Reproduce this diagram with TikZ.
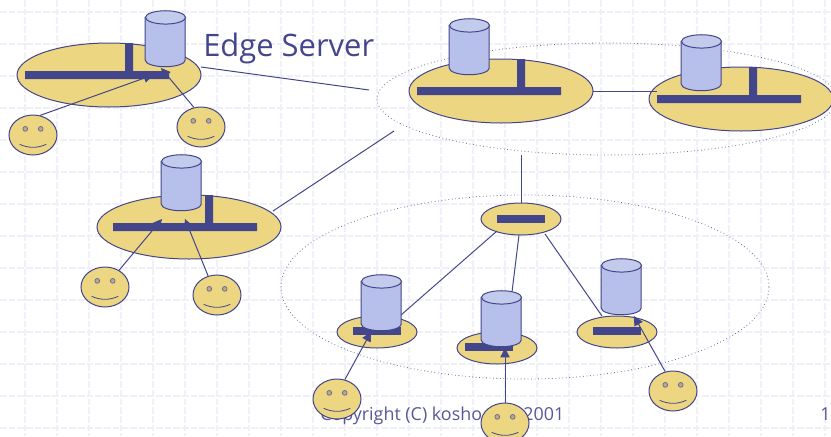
\documentclass[tikz,border=0pt]{standalone}
\usepackage{fontspec}
\setmainfont{Open Sans}
\usetikzlibrary{shapes.geometric,arrows.meta}
\definecolor{ink}{HTML}{44468C}
\definecolor{sand}{HTML}{ECD681}
\definecolor{dbbody}{HTML}{B7C0EA}
\definecolor{dbtop}{HTML}{C3CBEC}
\definecolor{gridc}{HTML}{EFF0FA}
\tikzset{
  px/.style={x=0.75pt,y=-0.75pt},
  gridline/.style={draw=gridc,line width=0.9pt,dash pattern=on 5pt off 1.5pt},
  network/.style={ellipse,draw=ink,fill=sand,line width=0.75pt,minimum width=138pt,minimum height=48pt,inner sep=0pt},
  smallnet/.style={network,minimum width=60pt,minimum height=24pt},
  region/.style={ellipse,draw=ink!80,line width=0.6pt,dotted,minimum height=84pt,inner sep=0pt},
  bar/.style={fill=ink,draw=none},
  serverbody/.style={draw=ink,line width=0.75pt,fill=dbbody},
  servertop/.style={draw=ink,line width=0.75pt,fill=dbtop},
  serverbox/.style={rectangle,minimum width=30pt,minimum height=42pt,inner sep=0pt},
  face/.style={ellipse,draw=ink,fill=sand,line width=0.75pt,minimum width=36pt,minimum height=30pt,inner sep=0pt},
  eye/.style={circle,draw=ink!85,fill=sand!70!ink,line width=0.5pt,minimum size=3.6pt,inner sep=0pt},
  link/.style={draw=ink,line width=0.75pt},
  request/.style={link,-{Triangle[length=7pt,width=7pt]}},
  titletext/.style={text=ink,font=\fontsize{23.2}{28}\selectfont,inner sep=0pt},
  foottext/.style={text=ink!90,font=\fontsize{13.4}{17}\selectfont,inner sep=0pt}
}
\newcommand{\smiley}[3]{%
  \node[face] (#1) at (#2,#3) {};
  \node[eye] (#1l) at ([xshift=-5.8pt,yshift=4.6pt]#1.center) {};
  \node[eye] (#1r) at ([xshift=5.8pt,yshift=4.6pt]#1.center) {};
  \draw[ink,line width=0.6pt] ([xshift=-10pt,yshift=-7pt]#1.center) .. controls ([xshift=-3pt,yshift=-10pt]#1.center) and ([xshift=3pt,yshift=-10pt]#1.center) .. ([xshift=10pt,yshift=-7pt]#1.center);
}
\newcommand{\dbserver}[3]{%
  \node[serverbox] (#1) at (#2,#3) {};
  \draw[serverbody] (#1.north west) ++(0,-5pt) -- ++(0,-32pt) arc[start angle=180,end angle=360,x radius=15pt,y radius=5pt] -- ++(0,32pt) -- cycle;
  \draw[servertop] ([yshift=-5pt]#1.north) ellipse[x radius=15pt,y radius=5pt];
}
\begin{document}
\begin{tikzpicture}[px]
\useasboundingbox (0,0) rectangle (831,436);
\begin{scope}
\clip (0,0) rectangle (831,436);
% grid
\foreach \gx in {25,57,...,825} \draw[gridline] (\gx,0) -- (\gx,436);
\foreach \gy in {12,44,...,428} \draw[gridline] (0,\gy) -- (831,\gy);
% dotted regions
\node[region,minimum width=345pt] (topregion) at (607,99) {};
\node[region,minimum width=366pt,minimum height=138pt] (lowregion) at (525,287) {};
% footer text
\node[foottext,anchor=base west] (copy) at (320,420) {Copyright (C) kosho\hspace{31pt}2001};
\node[foottext,anchor=base west] (pagenum) at (820,420) {1};
\node[titletext,anchor=base west] (title) at (203,56) {Edge Server};
% networks
\node[network] (netA) at (109,75) {};
\node[network] (netB) at (501,91) {};
\node[network] (netC) at (741,99) {};
\node[network] (netD) at (189,227) {};
\node[smallnet] (netE) at (521,219) {};
\node[smallnet] (netF) at (377,332) {};
\node[smallnet] (netG) at (497,348) {};
\node[smallnet] (netH) at (617,332) {};
% free connector ends
\coordinate (hubA) at (369,90);
\coordinate (hubD) at (394,131);
\coordinate (hubE) at (521,155);
\coordinate (tipA1) at (153,75);
\coordinate (tipA2) at (161,68);
\coordinate (tipD1) at (162,219);
\coordinate (tipD2) at (185,219);
\coordinate (tipF) at (371,332);
\coordinate (tipG) at (505,348);
\coordinate (tipH) at (634,316);
% links
\draw[link] (201,67) -- (hubA);
\draw[link] (273,211) -- (hubD);
\draw[link] (593,91) -- (657,91);
\draw[link] (hubE) -- (netE.north);
\draw[link] (497,231) -- (401,315);
\draw[link] (519,235) -- (512,292);
\draw[link] (545,234) -- (602,316);
% bars
\fill[bar] (25,71) rectangle (169,79) (125,43) rectangle (133,75);
\fill[bar] (417,87) rectangle (561,95) (517,59) rectangle (525,91);
\fill[bar] (657,95) rectangle (801,103) (749,67) rectangle (757,99);
\fill[bar] (113,223) rectangle (257,231) (205,195) rectangle (213,227);
\fill[bar] (497,215) rectangle (545,223);
\fill[bar] (353,327) rectangle (401,335);
\fill[bar] (465,343) rectangle (513,351);
\fill[bar] (593,327) rectangle (641,335);
% servers
\dbserver{dbA}{165.5}{39}
\dbserver{dbB}{469.5}{47}
\dbserver{dbC}{701.5}{63}
\dbserver{dbD}{181.5}{183}
\dbserver{dbF}{381.5}{303}
\dbserver{dbG}{501.5}{319}
\dbserver{dbH}{621.5}{287}
% users
\smiley{faceA}{33}{135}
\smiley{faceB}{201}{127}
\smiley{faceC}{105}{287}
\smiley{faceD}{217}{295}
\smiley{faceE}{337}{399}
\smiley{faceF}{505}{423}
\smiley{faceG}{673}{391}
\draw[request] (faceA.70) -- (tipA1);
\draw[request] (faceB.110) -- (tipA2);
\draw[request] (faceC.50) -- (tipD1);
\draw[request] (faceD.115) -- (tipD2);
\draw[request] (faceE.68) -- (tipF);
\draw[request] (faceF.north) -- (tipG);
\draw[request] (faceG.112) -- (tipH);
\end{scope}
\end{tikzpicture}
\end{document}
